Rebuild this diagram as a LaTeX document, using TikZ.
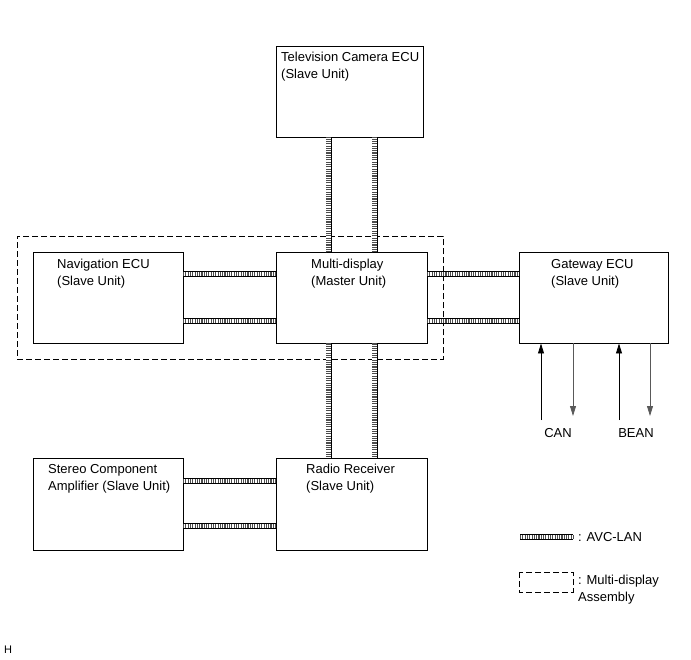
\documentclass[tikz,border=0pt]{standalone}
\usepackage{fontspec}
\setmainfont{Liberation Sans}
\usetikzlibrary{arrows.meta, positioning, calc, fit}

\begin{document}
\begin{tikzpicture}[
    x=1pt, y=-1pt,
    unit/.style={rectangle, draw, line width=0.9pt, minimum width=150pt, minimum height=91pt, inner sep=0pt, outer sep=0pt},
    txt/.style={anchor=north west, align=left, inner sep=0pt, font=\fontsize{13}{17}\selectfont},
    assy/.style={rectangle, draw, line width=0.6pt, dash pattern=on 6pt off 3pt, inner sep=16pt},
    cable/.style={line width=6pt, draw=black, postaction={draw=white, line width=4.4pt}, postaction={draw=black!70, line width=4.4pt, dash pattern=on 1.1pt off 1.2pt}},
    sig/.style={line width=0.8pt, -{Triangle[length=10pt, width=6pt]}},
    sigout/.style={line width=0.8pt, draw=black!65, -{Triangle[length=10pt, width=6pt]}},
  ]
    \useasboundingbox (0,0) rectangle (691,660);

    % Units
    \node[unit, minimum width=147pt] (tv) at (349.5, 91.5) {};
    \node[unit] (nav) at (108, 298) {};
    \node[unit, minimum width=151pt] (multi) at (351.5, 298) {};
    \node[unit, minimum width=149pt] (gateway) at (593.5, 298) {};
    \node[unit, minimum height=92pt] (stereo) at (108, 504) {};
    \node[unit, minimum width=151pt, minimum height=92pt] (radio) at (351.5, 504) {};

    \node[txt] (tvtxt) at (281, 52) {Television Camera ECU\\(Slave Unit)};
    \node[txt] (navtxt) at (57, 259) {Navigation ECU\\(Slave Unit)};
    \node[txt] (multitxt) at (311, 259) {Multi-display\\(Master Unit)};
    \node[txt] (gwtxt) at (551, 259) {Gateway ECU\\(Slave Unit)};
    \node[txt] (sttxt) at (48, 464) {Stereo Component\\Amplifier (Slave Unit)};
    \node[txt] (radtxt) at (306, 464) {Radio Receiver\\(Slave Unit)};

    % Multi-display assembly
    \node[assy, fit=(nav)(multi)] (assembly) {};

    % AVC-LAN
    \draw[cable] ([xshift=-23pt]multi.north) -- ([xshift=-23pt]multi.north |- tv.south);
    \draw[cable] ([xshift=23pt]multi.north) -- ([xshift=23pt]multi.north |- tv.south);
    \draw[cable] ([xshift=-23pt]multi.south) -- ([xshift=-23pt]multi.south |- radio.north);
    \draw[cable] ([xshift=23pt]multi.south) -- ([xshift=23pt]multi.south |- radio.north);
    \draw[cable] ([yshift=24pt]nav.east) -- ([yshift=24pt]multi.west);
    \draw[cable] ([yshift=-23pt]nav.east) -- ([yshift=-23pt]multi.west);
    \draw[cable] ([yshift=24pt]multi.east) -- ([yshift=24pt]gateway.west);
    \draw[cable] ([yshift=-23pt]multi.east) -- ([yshift=-23pt]gateway.west);
    \draw[cable] ([yshift=23pt]stereo.east) -- ([yshift=23pt]radio.west);
    \draw[cable] ([yshift=-22pt]stereo.east) -- ([yshift=-22pt]radio.west);

    % CAN / BEAN
    \coordinate (canin) at (541, 420);
    \coordinate (canout) at (573, 416);
    \coordinate (beanin) at (619, 420);
    \coordinate (beanout) at (650, 416);
    \draw[sig] (canin) -- (canin |- gateway.south);
    \draw[sigout] (canout |- gateway.south) -- (canout);
    \draw[sig] (beanin) -- (beanin |- gateway.south);
    \draw[sigout] (beanout |- gateway.south) -- (beanout);
    \node[font=\fontsize{13}{17}\selectfont] (can) at (558, 433) {CAN};
    \node[font=\fontsize{13}{17}\selectfont] (bean) at (636, 433) {BEAN};

    % Legend
    \coordinate (lanA) at (520, 537);
    \coordinate (lanB) at (573, 537);
    \draw[cable] (lanA) -- (lanB);
    \node[anchor=west, inner sep=0pt, font=\fontsize{13}{17}\selectfont] (lantxt) at (578, 537) {: AVC-LAN};
    \draw[line width=0.6pt, dash pattern=on 6pt off 3pt] (519, 572) rectangle (573, 592);
    \node[txt] (assytxt) at (578, 575) {: Multi-display\\Assembly};

    \node[anchor=west, inner sep=0pt, font=\fontsize{11}{13}\selectfont] (hmark) at (4, 650) {H};
\end{tikzpicture}
\end{document}
